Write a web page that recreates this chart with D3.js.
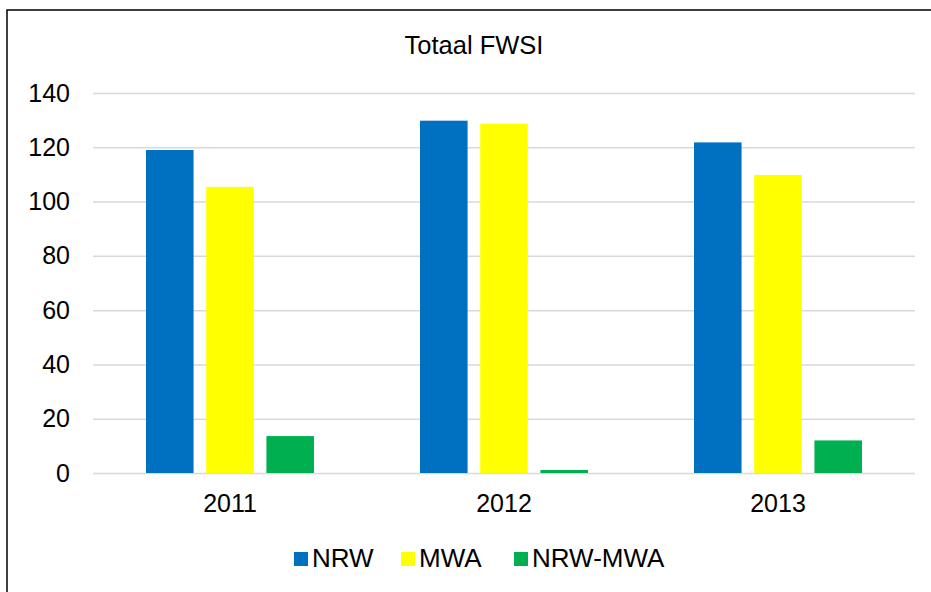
<!DOCTYPE html>
<html>
<head>
<meta charset="utf-8">
<script src="https://cdn.jsdelivr.net/npm/d3@7"></script>
<style>
  body { margin: 0; background: #fff; }
  text { font-family: "Liberation Sans", Arial, sans-serif; fill: #000; }
</style>
</head>
<body>
<div id="vis"></div>
<script>
const width = 931;
const height = 592;
const margin = { top: 93, right: 16, bottom: 119, left: 93 };

// data
const years = ["2011", "2012", "2013"];
const series = ["NRW", "MWA", "NRW-MWA"];
const colors = ["#0070c0", "#ffff00", "#00b050"];
const nrw = [119.0, 129.8, 121.8];
const mwa = [105.4, 128.7, 109.8];
const diff = [13.6, 1.1, 12.0];
const yTicks = [0, 20, 40, 60, 80, 100, 120, 140];

const values = [nrw, mwa, diff];
const rows = years.map((y, i) => ({ year: y, vals: series.map((s, j) => ({ key: s, value: values[j][i] })) }));

const svg = d3.select("#vis").append("svg")
  .attr("width", width)
  .attr("height", height);

// chart border (right and bottom edges fall outside the picture)
svg.append("rect")
  .attr("x", 7).attr("y", 10)
  .attr("width", 940).attr("height", 600)
  .attr("fill", "none")
  .attr("stroke", "#000")
  .attr("stroke-width", 1.5);

const x0 = d3.scaleBand().domain(years).range([margin.left, width - margin.right]).padding(0);
const groupW = 168;
const x1 = d3.scaleBand().domain(series)
  .range([(x0.bandwidth() - groupW) / 2, (x0.bandwidth() + groupW) / 2])
  .paddingInner(0.21);
const y = d3.scaleLinear().domain([0, 140]).range([height - margin.bottom, margin.top]);
const color = d3.scaleOrdinal().domain(series).range(colors);

// gridlines + y labels
const yAxis = svg.append("g")
  .attr("transform", `translate(${margin.left},0)`)
  .call(d3.axisLeft(y).tickValues(yTicks).tickSize(-(width - margin.left - margin.right)).tickPadding(23));
yAxis.select(".domain").remove();
yAxis.selectAll(".tick line").attr("stroke", "#d9d9d9").attr("stroke-width", 1.5);
yAxis.selectAll(".tick text")
  .style("font-size", "25px")
  .style("font-family", "'Liberation Sans', Arial, sans-serif")
  .attr("fill", "#000");

// bars
svg.append("g").selectAll("g")
  .data(rows)
  .join("g")
  .attr("transform", d => `translate(${x0(d.year)},0)`)
  .selectAll("rect")
  .data(d => d.vals)
  .join("rect")
  .attr("x", d => x1(d.key))
  .attr("y", d => y(d.value))
  .attr("width", x1.bandwidth())
  .attr("height", d => y(0) - y(d.value))
  .attr("fill", d => color(d.key));

// x labels
const xAxis = svg.append("g")
  .attr("transform", `translate(0,${y(0)})`)
  .call(d3.axisBottom(x0).tickSize(0).tickPadding(21));
xAxis.select(".domain").remove();
xAxis.selectAll(".tick text")
  .style("font-size", "25px")
  .style("font-family", "'Liberation Sans', Arial, sans-serif")
  .attr("fill", "#000");

// title
svg.append("text")
  .attr("x", 474)
  .attr("y", 53.5)
  .attr("text-anchor", "middle")
  .style("font-size", "25.5px")
  .text("Totaal FWSI");

// legend
const legendX = [294, 401, 514];
const legend = svg.append("g").selectAll("g")
  .data(series)
  .join("g")
  .attr("transform", (d, i) => `translate(${legendX[i]},552)`);
legend.append("rect")
  .attr("width", 14).attr("height", 14)
  .attr("fill", d => color(d));
legend.append("text")
  .attr("x", 18)
  .attr("y", 15)
  .style("font-size", "26px")
  .text(d => d);
</script>
</body>
</html>
